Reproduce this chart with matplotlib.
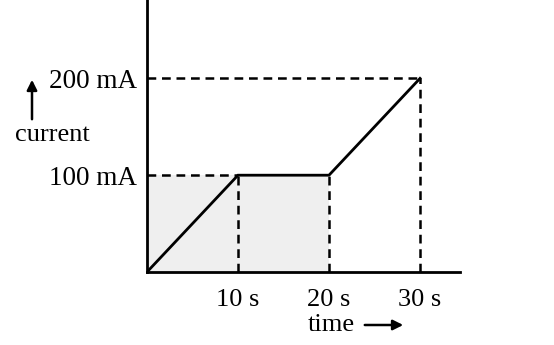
import matplotlib.pyplot as plt

# current vs time (piecewise linear)
t = [0, 10, 20, 30]
current = [0, 100, 100, 200]
xtick_vals = [10, 20, 30]
xtick_labels = ["10 s", "20 s", "30 s"]
ytick_vals = [100, 200]
ytick_labels = ["100 mA", "200 mA"]

plt.rcParams['font.family'] = ['Liberation Serif', 'DejaVu Serif']

fig = plt.figure(figsize=(5.54, 3.45), dpi=100)
ax = fig.add_axes([147/554, 73/345, 313/554, 272/345])
ax.set_xlim(0, 313/9.1)
ax.set_ylim(0, 272/0.968)

# faint shaded area under the first 20 s
ax.fill_between([0, 20], [100, 100], 0, color='#efefef', zorder=0, lw=0)

ax.plot(t, current, color='black', lw=2.0, solid_joinstyle='miter')

dash = dict(color='black', lw=1.8, ls=(0, (3.5, 2.3)))
ax.plot([0, 10], [100, 100], **dash)
ax.plot([0, 30], [200, 200], **dash)
for xv, yv in zip(t[1:], current[1:]):
    ax.plot([xv, xv], [0, yv], **dash)

for s in ['top', 'right']:
    ax.spines[s].set_visible(False)
for s in ['left', 'bottom']:
    ax.spines[s].set_linewidth(2.0)

ax.set_xticks(xtick_vals)
ax.set_xticklabels(xtick_labels, fontsize=19)
ax.set_yticks(ytick_vals)
ax.set_yticklabels(ytick_labels, fontsize=19.5)
ax.tick_params(axis='x', length=0, pad=12)
ax.tick_params(axis='y', length=0, pad=7)

fig.text(331/554, 1 - 325/345, "time", fontsize=19, ha='center', va='center')
fig.add_artist(plt.Annotation("", xy=(406/554, 1 - 325/345), xytext=(362/554, 1 - 325/345),
                              xycoords='figure fraction', textcoords='figure fraction',
                              arrowprops=dict(arrowstyle='-|>', color='black', lw=1.8, mutation_scale=15)))
fig.text(52/554, 1 - 135/345, "current", fontsize=19, ha='center', va='center')
fig.add_artist(plt.Annotation("", xy=(32/554, 1 - 77/345), xytext=(32/554, 1 - 122/345),
                              xycoords='figure fraction', textcoords='figure fraction',
                              arrowprops=dict(arrowstyle='-|>', color='black', lw=1.8, mutation_scale=15)))

fig.savefig("out.png", dpi=100, facecolor='white')
